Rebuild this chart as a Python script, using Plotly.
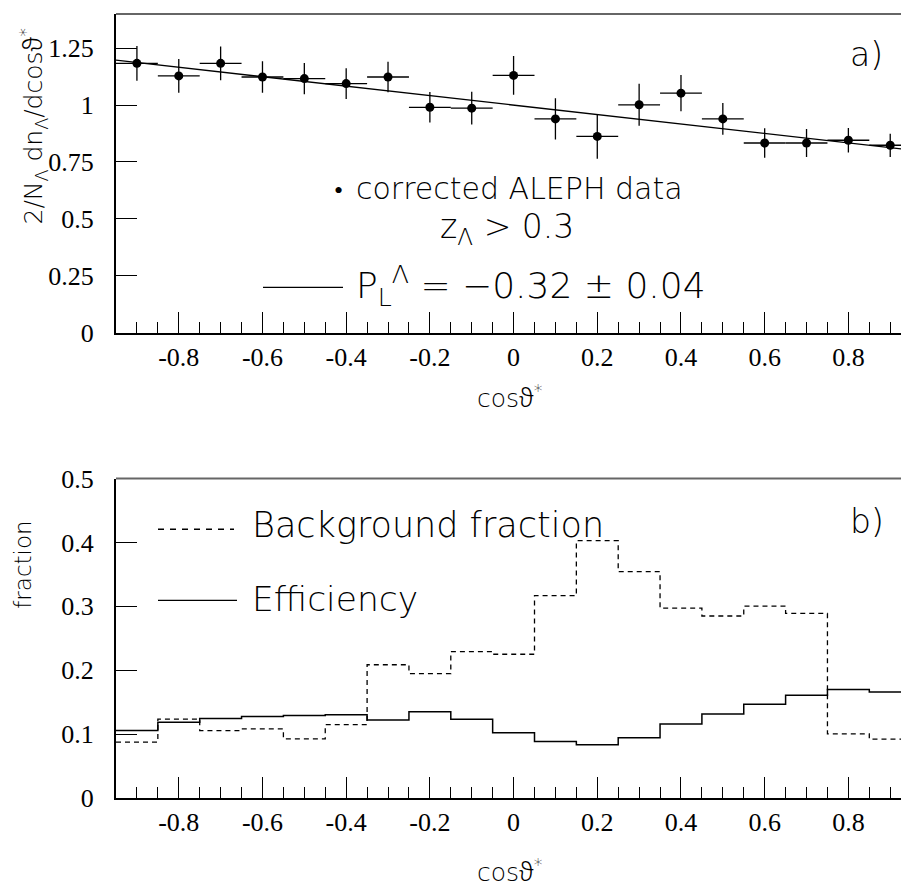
import plotly.graph_objects as go

# ---------------- data ----------------
cos_centers = [-0.9, -0.8, -0.7, -0.6, -0.5, -0.4, -0.3, -0.2, -0.1, 0.0,
               0.1, 0.2, 0.3, 0.4, 0.5, 0.6, 0.7, 0.8, 0.9]
bin_halfwidth = [0.05] * 19

# panel a) corrected ALEPH data
data_y = [1.183, 1.128, 1.183, 1.123, 1.116, 1.094, 1.123, 0.990, 0.986, 1.130,
          0.939, 0.862, 1.001, 1.052, 0.939, 0.833, 0.833, 0.845, 0.823]
data_err = [0.076, 0.074, 0.074, 0.069, 0.069, 0.068, 0.067, 0.067, 0.072, 0.085,
            0.091, 0.098, 0.092, 0.080, 0.070, 0.065, 0.062, 0.054, 0.051]
fit_x = [-0.95, 0.95]
fit_y = [1.197, 0.802]

# panel b) histograms
bkg_fraction = [0.0875, 0.1236, 0.1056, 0.1082, 0.0927, 0.1148, 0.2086, 0.1947, 0.2292, 0.2250,
                0.3168, 0.4028, 0.3544, 0.2972, 0.2849, 0.3003, 0.2890, 0.1004, 0.0921]
efficiency = [0.1056, 0.1184, 0.1246, 0.1277, 0.1292, 0.1303, 0.1221, 0.1350, 0.1234, 0.1020,
              0.0886, 0.0834, 0.0943, 0.1159, 0.1314, 0.1468, 0.1607, 0.1700, 0.1658]

x_tickvals = [-0.8, -0.6, -0.4, -0.2, 0.0, 0.2, 0.4, 0.6, 0.8]
x_ticktext = ["-0.8", "-0.6", "-0.4", "-0.2", "0", "0.2", "0.4", "0.6", "0.8"]
ya_tickvals = [0, 0.25, 0.5, 0.75, 1.0, 1.25]
ya_ticktext = ["0", "0.25", "0.5", "0.75", "1", "1.25"]
yb_tickvals = [0, 0.1, 0.2, 0.3, 0.4, 0.5]
yb_ticktext = ["0", "0.1", "0.2", "0.3", "0.4", "0.5"]

# ---------------- geometry helpers ----------------
W, H = 901, 892
L_PX, R_PX = 116, 901
TOP_PX, BOT_PX = 4, 798.3
PW = R_PX - L_PX
PH = BOT_PX - TOP_PX


def px(x):
    return (x - L_PX) / PW


def py(y):
    return (BOT_PX - y) / PH


def steps(vals):
    xs = [c - h for c, h in zip(cos_centers, bin_halfwidth)] + [cos_centers[-1] + bin_halfwidth[-1]]
    ys = list(vals) + [vals[-1]]
    return xs, ys


SANS = "DejaVu Sans"
SERIF = "Liberation Serif"
WEIGHT = 200
THETA = "<span style='font-family:Noto Sans;font-weight:300'>ϑ</span>"

fig = go.Figure()

# panel a
fig.add_trace(go.Scatter(x=fit_x, y=fit_y, mode="lines",
                         line=dict(color="black", width=1.3),
                         xaxis="x", yaxis="y", showlegend=False))
fig.add_trace(go.Scatter(x=cos_centers, y=data_y, mode="markers",
                         marker=dict(color="black", size=9),
                         error_y=dict(type="data", array=data_err, color="black", thickness=1.3, width=0),
                         error_x=dict(type="data", array=bin_halfwidth, color="black", thickness=1.3, width=0),
                         xaxis="x", yaxis="y", showlegend=False))

# panel b
bx, by = steps(bkg_fraction)
fig.add_trace(go.Scatter(x=bx, y=by, mode="lines", line_shape="hv",
                         line=dict(color="black", width=1.3, dash="5px,4px"),
                         xaxis="x2", yaxis="y2", showlegend=False))
ex, ey = steps(efficiency)
fig.add_trace(go.Scatter(x=ex, y=ey, mode="lines", line_shape="hv",
                         line=dict(color="black", width=1.5),
                         xaxis="x2", yaxis="y2", showlegend=False))

xr = [-0.95, -0.95 + PW / 418.5]

common_x = dict(range=xr, showgrid=False, zeroline=False, showline=True,
                linecolor="black", linewidth=2, ticks="inside", ticklen=21,
                tickwidth=1.3, tickcolor="black", tickmode="array",
                tickvals=x_tickvals, ticktext=x_ticktext, ticklabelstandoff=0,
                tickfont=dict(family=SERIF, size=26, color="black"),
                minor=dict(ticks="inside", ticklen=11, tickwidth=1.3, tickcolor="black",
                           tickmode="linear", tick0=0, dtick=0.05),
                fixedrange=True)
common_y = dict(showgrid=False, zeroline=False, showline=True, linecolor="black",
                linewidth=2, ticks="inside", ticklen=21, tickwidth=1.3, tickcolor="black",
                tickmode="array", ticklabelstandoff=15,
                tickfont=dict(family=SERIF, size=26, color="black"), fixedrange=True)

fig.update_layout(
    width=W, height=H,
    margin=dict(l=L_PX, r=W - R_PX, t=TOP_PX, b=H - BOT_PX, pad=0),
    paper_bgcolor="white", plot_bgcolor="white",
    showlegend=False,
    xaxis=dict(domain=[0, 1], anchor="y", **common_x),
    yaxis=dict(domain=[py(326.7), 1], anchor="x", range=[0, 1.4],
               tickvals=ya_tickvals, ticktext=ya_ticktext, **common_y),
    xaxis2=dict(domain=[0, 1], anchor="y2", **common_x),
    yaxis2=dict(domain=[0, py(474.7)], anchor="x2", range=[0, 0.5],
                tickvals=yb_tickvals, ticktext=yb_ticktext, **common_y),
)

shapes = [
    dict(type="line", xref="x domain", yref="y domain", x0=0, x1=1, y0=1, y1=1,
         line=dict(color="#666666", width=2)),
    dict(type="line", xref="x2 domain", yref="y2 domain", x0=0, x1=1, y0=1, y1=1,
         line=dict(color="#666666", width=2)),
    # key samples
    dict(type="line", xref="paper", yref="paper", x0=px(263), x1=px(343), y0=py(281), y1=py(281),
         line=dict(color="black", width=1.3)),
    dict(type="line", xref="paper", yref="paper", x0=px(158), x1=px(234), y0=py(526), y1=py(526),
         line=dict(color="black", width=1.3, dash="6px,6px")),
    dict(type="line", xref="paper", yref="paper", x0=px(158), x1=px(237), y0=py(598), y1=py(598),
         line=dict(color="black", width=1.3)),
]
fig.update_layout(shapes=shapes)


def ann(text, x, y, size, xanchor="left", family=SANS, angle=0):
    return dict(text=text, x=px(x), y=py(y), xref="paper", yref="paper",
                xanchor=xanchor, yanchor="middle", showarrow=False, textangle=angle,
                font=dict(family=family, size=size, color="black", weight=WEIGHT))


annotations = [
    ann("•", 338, 182, 26, xanchor="center"),
    ann("corrected ALEPH data", 354, 181, 30),
    ann("z<sub>Λ</sub> &gt; 0.3", 438, 221, 33),
    ann("P<sub>L</sub><sup>Λ</sup> = −0.32 ± 0.04", 354, 280, 36),
    ann("a)", 848, 45, 33),
    ann("b)", 848, 518, 33),
    ann("Background fraction", 250, 522, 35),
    ann("Efficiency", 250, 597, 34.5),
    ann("cos" + THETA + "<sup>*</sup>", 510, 392, 25, xanchor="center"),
    ann("cos" + THETA + "<sup>*</sup>", 510, 872, 25, xanchor="center"),
    ann("2/N<sub>Λ</sub> dn<sub>Λ</sub>/dcos" + THETA + "<sup>*</sup>", 33, 118, 25,
        xanchor="center", angle=-90),
    ann("fraction", 23, 562, 23, xanchor="center", angle=-90),
]
fig.update_layout(annotations=annotations)

fig.write_html("out.html", config={"displayModeBar": False},
               post_script="document.body.style.margin='0';document.body.style.overflow='hidden';")
